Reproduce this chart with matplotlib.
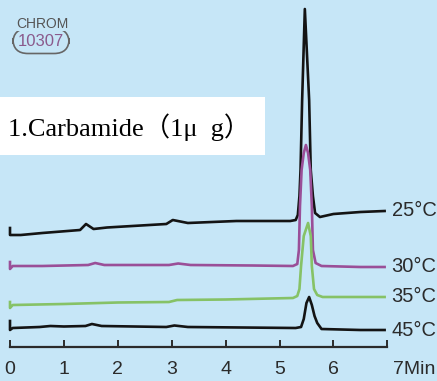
import matplotlib.pyplot as plt
from matplotlib.transforms import ScaledTranslation

# Retention time (min) and detector response for each column temperature
t25 = [0.00, 0.00, 0.20, 0.60, 1.30, 1.41, 1.55, 1.80, 2.90, 3.02, 3.30, 4.20, 5.20,
       5.30, 5.34, 5.37, 5.39, 5.42, 5.47, 5.55, 5.58, 5.62, 5.66, 5.75, 6.00, 6.50, 6.95]
s25 = [153, 146, 146, 148, 151, 157, 152, 153.5, 157, 161, 158, 160, 160,
       161, 166, 185, 211, 281, 372, 281, 211, 185, 168, 164, 167, 169, 170]

t30 = [0.00, 0.00, 0.05, 0.60, 1.45, 1.58, 1.75, 2.95, 3.12, 3.35, 4.50, 5.25, 5.33,
       5.36, 5.38, 5.41, 5.45, 5.49, 5.53, 5.57, 5.60, 5.62, 5.67, 5.78, 6.50, 6.95]
s30 = [119, 112, 115, 115, 116, 118, 116, 116, 117.5, 116, 115.5, 115, 117,
       131, 175, 211, 228, 236, 228, 211, 175, 131, 118, 115, 114, 114]

t35 = [0.00, 0.00, 0.05, 1.00, 2.00, 2.95, 3.10, 4.00, 5.25, 5.33, 5.37, 5.40, 5.45,
       5.53, 5.58, 5.60, 5.64, 5.70, 5.80, 6.50, 6.95]
s35 = [79, 73, 76, 77, 78.5, 79, 81, 81.5, 83, 85, 92, 115, 145,
       158, 145, 115, 92, 86, 84, 84, 84]

t45 = [0.00, 0.00, 0.05, 0.55, 0.75, 1.00, 1.40, 1.52, 1.70, 2.90, 3.05, 3.30, 5.30,
       5.40, 5.45, 5.50, 5.55, 5.60, 5.65, 5.70, 5.78, 6.50, 6.95]
s45 = [60, 51, 53, 54, 55, 54.5, 55, 57, 55, 54, 55.5, 54, 53,
       54, 62, 78, 84, 76, 65, 58, 52, 51, 51]

temps = ['25°C', '30°C', '35°C', '45°C']
colors = ['#141414', '#9a4f98', '#86c266', '#141414']
ticks = [0, 1, 2, 3, 4, 5, 6, 7]
tick_labels = ['0', '1', '2', '3', '4', '5', '6', '7Min']

bg = '#c6e6f7'
sans = ['Liberation Sans Narrow', 'Liberation Sans']

fig = plt.figure(figsize=(4.37, 3.81), dpi=100, facecolor=bg)
ax = fig.add_axes([0, 0, 1, 1], facecolor=bg)
ax.set_xlim(-10 / 53.9, 427 / 53.9)
ax.set_ylim(0, 381)

traces = [(t25, s25), (t30, s30), (t35, s35), (t45, s45)]
for (t, s), c, lab in zip(traces, colors, temps):
    ax.plot(t, s, color=c, lw=1.9, solid_joinstyle='round', zorder=3)
    ax.text(t[-1] + 0.13, s[-1], lab, ha='left', va='center',
            fontsize=14.5, family=sans, color='#2b2b2b')

# time axis drawn as a bottom spine with inward ticks
for side in ['left', 'right', 'top']:
    ax.spines[side].set_visible(False)
ax.spines['bottom'].set_position(('data', 34))
ax.spines['bottom'].set_bounds(0, 7)
ax.spines['bottom'].set_linewidth(1.6)
ax.spines['bottom'].set_color('#2b2b2b')
ax.set_yticks([])
ax.set_xticks(ticks)
ax.set_xticklabels(tick_labels, family=sans, fontsize=14, color='#2b2b2b')
ax.tick_params(axis='x', direction='in', length=5, width=1.4,
               color='#2b2b2b', pad=10)
last = ax.get_xticklabels()[-1]
last.set_ha('left')
last.set_transform(last.get_transform() + ScaledTranslation(4 / 72, 0, fig.dpi_scale_trans))

# compound label on a white panel
fig.patches.append(plt.Rectangle((0, (381 - 155) / 381), 265 / 437, 58 / 381,
                                 transform=fig.transFigure, facecolor='white',
                                 edgecolor='none', zorder=1))
fig.text(8 / 437, (381 - 127) / 381, '1.Carbamide（1μ  g）', ha='left', va='center',
         fontsize=19, color='black',
         family=['Liberation Serif', 'Noto Sans CJK SC'], zorder=2)

# logo
fig.text(41 / 437, (381 - 41) / 381, '10307', ha='center', va='center',
         fontsize=12, color='#8a5a8c', family=sans,
         bbox=dict(boxstyle='round,pad=0.3,rounding_size=0.9', fc='none',
                   ec='#666666', lw=1.2))
fig.text(42 / 437, (381 - 24) / 381, 'CHROM', ha='center', va='center',
         fontsize=10, color='#555555', family=sans,
         bbox=dict(boxstyle='square,pad=0.0', fc=bg, ec='none'))

fig.savefig('out.png', dpi=100, facecolor=bg)
